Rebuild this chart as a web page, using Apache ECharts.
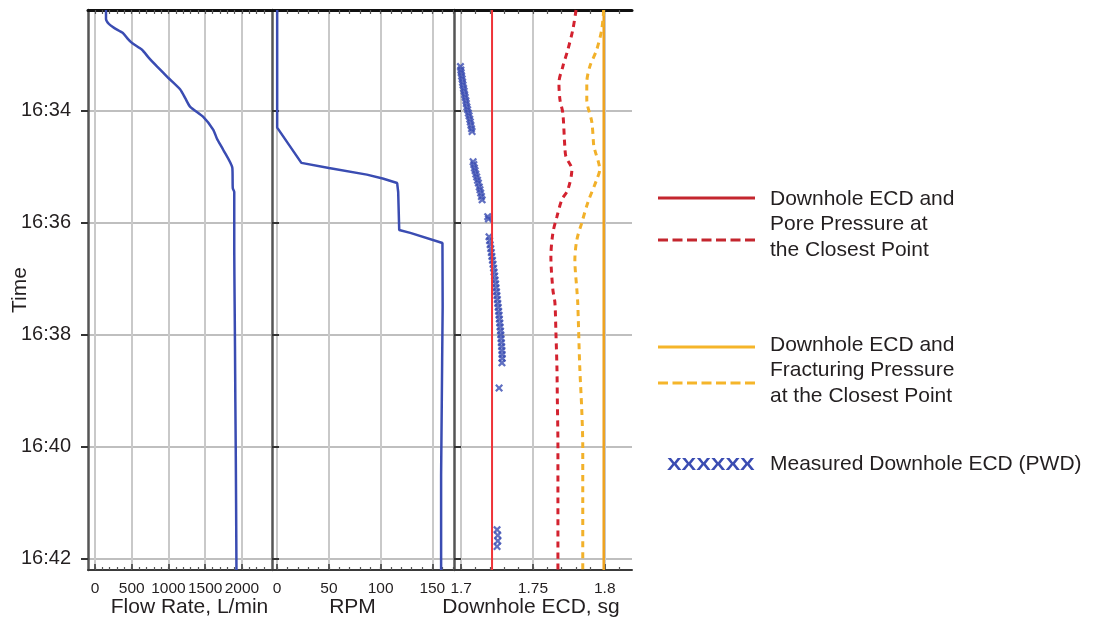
<!DOCTYPE html>
<html><head><meta charset="utf-8">
<script src="https://cdn.jsdelivr.net/npm/echarts@6/dist/echarts.min.js"></script>
<style>html,body{margin:0;padding:0;background:#fff}#c{width:1094px;height:622px}</style>
</head><body><div id="c"></div>
<script>
// ---- tick labels ----
const timeTicks = [34, 36, 38, 40, 42];
const timeLabels = ['16:34', '16:36', '16:38', '16:40', '16:42'];
const flowTicks = [0, 500, 1000, 1500, 2000];
const rpmTicks = [0, 50, 100, 150];
const ecdTicks = [1.7, 1.75, 1.8];
const ecdTickLabels = ['1.7', '1.75', '1.8'];

// ---- flow rate (L/min) vs time (minutes after 16:00) ----
const flowTime = [32.2, 32.36, 32.45, 32.52, 32.61, 32.72, 32.79, 32.91, 33.05, 33.21, 33.41, 33.62, 33.78, 33.93, 34.11, 34.34, 34.5, 34.7, 35.02, 35.38, 35.45, 36.5, 37.4, 38.2, 39.2, 40.0, 41.0, 42.2];
const flowRate = [150, 150, 190, 260, 380, 450, 505, 640, 730, 846, 996, 1160, 1230, 1296, 1473, 1610, 1660, 1746, 1869, 1875, 1895, 1895, 1900, 1905, 1910, 1915, 1920, 1925];

// ---- RPM ----
const rpmTime = [32.2, 34.3, 34.93, 35.02, 35.14, 35.21, 35.29, 35.45, 36.13, 36.18, 36.36, 37.5, 38.5, 39.5, 40.5, 41.5, 42.2];
const rpmValue = [0, 0, 23.4, 50, 86.7, 102, 116, 117, 118, 128.7, 159.8, 160, 159.5, 159, 158.5, 158.5, 158.5];

// ---- Downhole ECD constant lines ----
const ecdPoreLine = 1.7215;
const ecdFracLine = 1.7993;
const ecdLineTimes = [32.2, 42.2];

// ---- Pore pressure at closest point (dashed red) ----
const poreTime = [32.2, 32.55, 32.91, 33.21, 33.5, 33.8, 34.04, 34.64, 34.82, 35.05, 35.41, 35.59, 35.89, 36.18, 36.61, 37.2, 37.43, 37.96, 38.57, 39.16, 40.0, 41.0, 42.2];
const poreEcd = [1.78, 1.7778, 1.7743, 1.7708, 1.7681, 1.7688, 1.7708, 1.7722, 1.773, 1.7771, 1.7743, 1.7701, 1.7667, 1.7639, 1.7625, 1.7639, 1.7653, 1.766, 1.7667, 1.767, 1.7674, 1.7674, 1.7674];

// ---- Fracturing pressure at closest point (dashed orange) ----
const fracTime = [32.2, 32.55, 32.91, 33.21, 33.5, 33.8, 34.2, 34.64, 34.7, 35.05, 35.23, 35.64, 36.0, 36.3, 36.66, 37.2, 37.43, 38.57, 39.34, 40.0, 41.0, 42.2];
const fracEcd = [1.7993, 1.7979, 1.7944, 1.7896, 1.7875, 1.7875, 1.791, 1.7924, 1.7931, 1.7965, 1.7944, 1.7882, 1.784, 1.7806, 1.7792, 1.7806, 1.7812, 1.7826, 1.784, 1.7847, 1.7847, 1.7847];

// ---- Measured downhole ECD (PWD) ----
const pwdTime = [33.21, 33.27, 33.32, 33.38, 33.43, 33.49, 33.54, 33.6, 33.65, 33.71, 33.76, 33.82, 33.87, 33.93, 33.98, 34.04, 34.09, 34.15, 34.2, 34.26, 34.32, 34.37,
  34.91, 34.96, 35.02, 35.07, 35.13, 35.18, 35.24, 35.29, 35.36, 35.41, 35.47, 35.53, 35.59,
  35.89, 35.93,
  36.25, 36.32, 36.39, 36.46, 36.53, 36.6, 36.67, 36.74, 36.81, 36.88, 36.95, 37.02, 37.09, 37.16, 37.23, 37.3, 37.37, 37.44, 37.51, 37.58, 37.65, 37.72, 37.79, 37.86, 37.93, 38.0, 38.07, 38.14, 38.21, 38.28, 38.35, 38.42, 38.5,
  38.95,
  41.48, 41.58, 41.68, 41.78];
const pwdEcd = [1.6995, 1.6998, 1.7, 1.7003, 1.7007, 1.701, 1.7013, 1.7017, 1.7021, 1.7024, 1.7028, 1.7033, 1.7036, 1.704, 1.7045, 1.705, 1.7055, 1.706, 1.7064, 1.7068, 1.7072, 1.7076,
  1.7083, 1.7088, 1.7092, 1.7097, 1.7102, 1.7108, 1.7114, 1.712, 1.7126, 1.7131, 1.7136, 1.7141, 1.7146,
  1.7185, 1.719,
  1.7194, 1.7198, 1.7202, 1.7206, 1.721, 1.7214, 1.7218, 1.7222, 1.7226, 1.7229, 1.7233, 1.7236, 1.724, 1.7243, 1.7246, 1.7249, 1.7252, 1.7255, 1.7258, 1.7261, 1.7264, 1.7266, 1.7269, 1.7271, 1.7274, 1.7276, 1.7278, 1.728, 1.7282, 1.7284, 1.7285, 1.7286, 1.7284,
  1.7264,
  1.725, 1.7255, 1.7255, 1.725];

// ---------------------------------------------------------------
const FONT = '"Liberation Sans", Arial, Helvetica, sans-serif';
const TXT = '#231f20';
const BLUE = '#3a4cb2';

function steps(a, b, s) { const out = []; const n = Math.round((b - a) / s); for (let i = 0; i <= n; i++) out.push(+(a + i * s).toFixed(4)); return out; }
const flowMinor = steps(0, 2300, 100);
const rpmMinor = steps(0, 170, 10);
const ecdMinor = steps(1.7, 1.81, 0.01);

const zip = (xs, ys) => xs.map((x, i) => [x, ys[i]]);

const grids = [
  { left: 88, top: 10, width: 183, height: 560, containLabel: false, outerBoundsMode: 'none' },
  { left: 272, top: 10, width: 181, height: 560, containLabel: false, outerBoundsMode: 'none' },
  { left: 454, top: 10, width: 178, height: 560, containLabel: false, outerBoundsMode: 'none' }
];
const xCfg = [
  { min: -95, max: 2395, majors: flowTicks, minors: flowMinor, name: 'Flow Rate, L/min', pad: [0, 0, 0, 20], fmt: v => String(v) },
  { min: -5, max: 170, majors: rpmTicks, minors: rpmMinor, name: 'RPM', pad: [0, 20, 0, 0], fmt: v => String(v) },
  { min: 1.695, max: 1.819, majors: ecdTicks, minors: ecdMinor, name: 'Downhole ECD, sg', pad: [0, 24, 0, 0], fmt: v => ecdTickLabels[ecdTicks.findIndex(t => Math.abs(t - v) < 1e-6)] || String(v) }
];

const xAxes = [];
xCfg.forEach((c, g) => {
  xAxes.push({
    type: 'value', gridIndex: g, min: c.min, max: c.max, position: 'bottom',
    name: c.name, nameLocation: 'middle', nameGap: 27, nameMoveOverlap: false,
    nameTextStyle: { fontSize: 21, color: TXT, fontFamily: FONT, padding: c.pad },
    axisLine: { show: true, onZero: false, lineStyle: { color: '#3a3a3a', width: 2 } },
    axisTick: { show: true, inside: true, length: 6, customValues: c.majors, lineStyle: { color: '#3a3a3a', width: 1.5 } },
    axisLabel: { show: true, customValues: c.majors, margin: 11, fontSize: 15.5, color: TXT, fontFamily: FONT, formatter: c.fmt },
    splitLine: { show: true, lineStyle: { color: '#c9c9c9', width: 2 } }
  });
  xAxes.push({
    type: 'value', gridIndex: g, min: c.min, max: c.max, position: 'bottom',
    axisLine: { show: false, onZero: false },
    axisTick: { show: true, inside: true, length: 3, customValues: c.minors, lineStyle: { color: '#555', width: 1.2 } },
    axisLabel: { show: false }, splitLine: { show: false }
  });
  xAxes.push({
    type: 'value', gridIndex: g, min: c.min, max: c.max, position: 'top',
    axisLine: { show: true, onZero: false, lineStyle: { color: '#111', width: 3 } },
    axisTick: { show: true, inside: true, length: 4, customValues: c.minors, lineStyle: { color: '#555', width: 1.2 } },
    axisLabel: { show: false }, splitLine: { show: false }
  });
});

const yAxes = grids.map((gr, g) => ({
  type: 'value', gridIndex: g, inverse: true, min: 32.2, max: 42.2,
  name: g === 0 ? 'Time' : '', nameLocation: 'middle', nameGap: 57, nameRotate: 90, nameMoveOverlap: false,
  nameTextStyle: { fontSize: 21, color: TXT, fontFamily: FONT },
  axisLine: { show: true, onZero: false, lineStyle: { color: '#555', width: 2.5 } },
  axisTick: { show: true, inside: g > 0, length: 7, customValues: timeTicks, lineStyle: { color: '#333', width: 2 } },
  axisLabel: g === 0 ? { show: true, customValues: timeTicks, margin: 17, fontSize: 20, color: TXT, fontFamily: FONT,
    formatter: v => timeLabels[timeTicks.indexOf(v)] } : { show: false },
  splitLine: { show: true, lineStyle: { color: '#aaaaaa', width: 1.5 } }
}));

const crossPath = 'path://M0,2L2,0L5,3L8,0L10,2L7,5L10,8L8,10L5,7L2,10L0,8L3,5Z';

const series = [
  { type: 'line', xAxisIndex: 0, yAxisIndex: 0, data: zip(flowRate, flowTime), symbol: 'none', smooth: 0.2, lineStyle: { color: BLUE, width: 2.5 } },
  { type: 'line', xAxisIndex: 3, yAxisIndex: 1, data: zip(rpmValue, rpmTime), symbol: 'none', lineStyle: { color: BLUE, width: 2.5 } },
  { type: 'line', xAxisIndex: 6, yAxisIndex: 2, data: ecdLineTimes.map(t => [ecdPoreLine, t]), symbol: 'none', lineStyle: { color: '#ef3338', width: 2 } },
  { type: 'line', xAxisIndex: 6, yAxisIndex: 2, data: ecdLineTimes.map(t => [ecdFracLine, t]), symbol: 'none', lineStyle: { color: '#eea21f', width: 2.5 } },
  { type: 'line', xAxisIndex: 6, yAxisIndex: 2, data: zip(poreEcd, poreTime), symbol: 'none', smooth: 0.3, lineStyle: { color: '#d3222f', width: 3, type: [6, 5] } },
  { type: 'line', xAxisIndex: 6, yAxisIndex: 2, data: zip(fracEcd, fracTime), symbol: 'none', smooth: 0.3, lineStyle: { color: '#f2b12a', width: 3, type: [6, 5] } },
  { type: 'scatter', xAxisIndex: 6, yAxisIndex: 2, data: zip(pwdEcd, pwdTime), symbol: crossPath, symbolSize: 8, itemStyle: { color: BLUE } }
];

const legendText = (x, y, s) => ({ type: 'text', left: x, top: y, style: { text: s, fontSize: 21, fontFamily: FONT, fill: TXT } });
const graphic = [
  { type: 'line', shape: { x1: 658, y1: 198, x2: 755, y2: 198 }, style: { stroke: '#c4262e', lineWidth: 3 } },
  { type: 'line', shape: { x1: 658, y1: 240, x2: 755, y2: 240 }, style: { stroke: '#c4262e', lineWidth: 3, lineDash: [10, 4.5] } },
  legendText(770, 189, 'Downhole ECD and'),
  legendText(770, 214, 'Pore Pressure at'),
  legendText(770, 240, 'the Closest Point'),
  { type: 'line', shape: { x1: 658, y1: 347, x2: 755, y2: 347 }, style: { stroke: '#f5b52a', lineWidth: 3 } },
  { type: 'line', shape: { x1: 658, y1: 383, x2: 755, y2: 383 }, style: { stroke: '#f5b52a', lineWidth: 3, lineDash: [10, 4.5] } },
  legendText(770, 335, 'Downhole ECD and'),
  legendText(770, 360, 'Fracturing Pressure'),
  legendText(770, 386, 'at the Closest Point'),
  { type: 'text', left: 667, top: 458, scaleX: 1.37, style: { text: 'XXXXXX', fontSize: 16, fontWeight: 'bold', fontFamily: FONT, fill: BLUE } },
  legendText(770, 454, 'Measured Downhole ECD (PWD)')
];

const chart = echarts.init(document.getElementById('c'), null, { renderer: 'canvas' });
chart.setOption({
  animation: false,
  backgroundColor: '#fff',
  grid: grids,
  xAxis: xAxes,
  yAxis: yAxes,
  series: series,
  graphic: graphic
});
</script></body></html>
